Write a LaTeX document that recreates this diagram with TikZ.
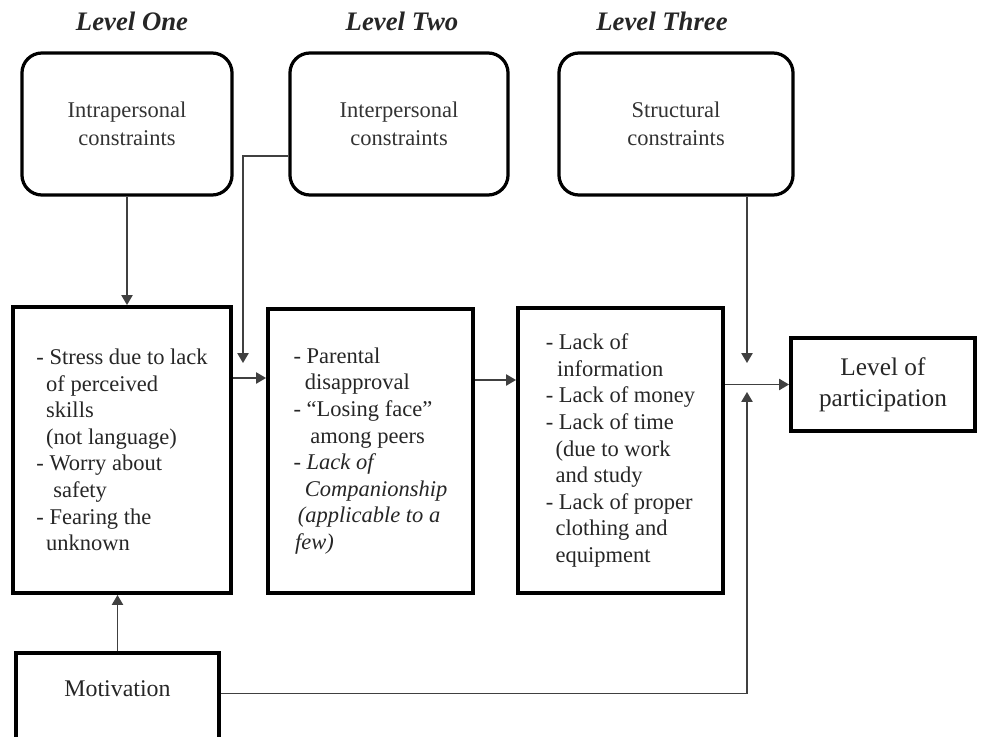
\documentclass[tikz,border=0pt]{standalone}
\usepackage{fontspec}
\setmainfont{Liberation Serif}
\usetikzlibrary{arrows.meta,calc,positioning}
\tikzset{every picture/.style={line width=0.75pt}}

\begin{document}
\begin{tikzpicture}[
    x=0.025cm, y=-0.025cm,
    level/.style={font=\fontsize{19}{22}\selectfont\bfseries\itshape,text=black!85},
    constraint/.style={draw,line width=2.3pt,rounded corners=0.5cm,align=center,text=black!80,font=\fontsize{16}{20}\selectfont},
    barrier/.style={draw,line width=2.8pt,align=left,inner sep=0pt,text=black!85,font=\fontsize{16}{18.9}\selectfont},
    outcome/.style={draw,line width=2.8pt,align=center,text=black!85,font=\fontsize{18}{22}\selectfont},
    conn/.style={-{Triangle[length=7pt,width=8pt]},line width=0.9pt,black!75}
]
    \useasboundingbox (0,0) rectangle (982,737);

    % Level headings
    \node[level] (lvone) at (132,21) {Level One};
    \node[level] (lvtwo) at (402,21) {Level Two};
    \node[level] (lvthree) at (662,21) {Level Three};

    % Constraint boxes
    \node[constraint,minimum width=5.25cm,minimum height=3.55cm] (intra) at (127,124) {Intrapersonal\\constraints};
    \node[constraint,minimum width=5.45cm,minimum height=3.55cm] (inter) at (399,124) {Interpersonal\\constraints};
    \node[constraint,minimum width=5.85cm,minimum height=3.55cm] (struct) at (676,124) {Structural\\constraints};

    % Level One barriers
    \node[barrier,minimum width=5.45cm,minimum height=7.15cm] (box1) at (122,450) {%
        - Stress due to lack\\
        \hspace*{7pt}of perceived\\
        \hspace*{7pt}skills\\
        \hspace*{7pt}(not language)\\
        - Worry about\\
        \hspace*{12pt}safety\\
        - Fearing the\\
        \hspace*{7pt}unknown};

    % Level Two barriers
    \node[barrier,minimum width=5.125cm,minimum height=7.1cm] (box2) at (370.5,451) {%
        - Parental\\
        \hspace*{8pt}disapproval\\
        - “Losing face”\\
        \hspace*{12pt}among peers\\
        - \textit{Lack of}\\
        \hspace*{8pt}\textit{Companionship}\\
        \hspace*{3pt}\textit{(applicable to a}\\
        \hspace*{1pt}\textit{few)}};

    % Level Three barriers
    \node[barrier,minimum width=5.125cm,minimum height=7.125cm] (box3) at (620.5,450.5) {%
        - Lack of\\
        \hspace*{8pt}information\\
        - Lack of money\\
        - Lack of time\\
        \hspace*{7pt}(due to work\\
        \hspace*{7pt}and study\\
        - Lack of proper\\
        \hspace*{7pt}clothing and\\
        \hspace*{7pt}equipment};

    % Outcome and motivation
    \node[outcome,minimum width=4.6cm,minimum height=2.325cm] (lop) at (883,384.5) {Level of\\participation};
    \node[outcome,anchor=north west,minimum width=5.075cm,inner ysep=0pt,text height=31pt,text depth=80pt,
          font=\fontsize{17}{20}\selectfont] (motiv) at (14,651) {Motivation};

    % Free ends
    \coordinate (interend) at (243,363);
    \coordinate (structend) at (747,363);
    \coordinate (motivend) at (747,392);

    % Connectors
    \draw[conn] (intra.south) -- (intra.south |- box1.north);
    \draw[conn] ($(inter.west)+(0,32)$) -| (interend);
    \draw[conn] (structend |- struct.south) -- (structend);
    \draw[conn] ($(box1.east)+(0,-72)$) coordinate (a12) -- (a12 -| box2.west);
    \draw[conn] ($(box2.east)+(0,-71)$) coordinate (a23) -- (a23 -| box3.west);
    \draw[conn] (box3.east |- lop.west) -- (lop.west);
    \draw[conn] (motiv.north) -- (motiv.north |- box1.south);
    \draw[conn] (motiv.mid east) -| (motivend);
\end{tikzpicture}
\end{document}
